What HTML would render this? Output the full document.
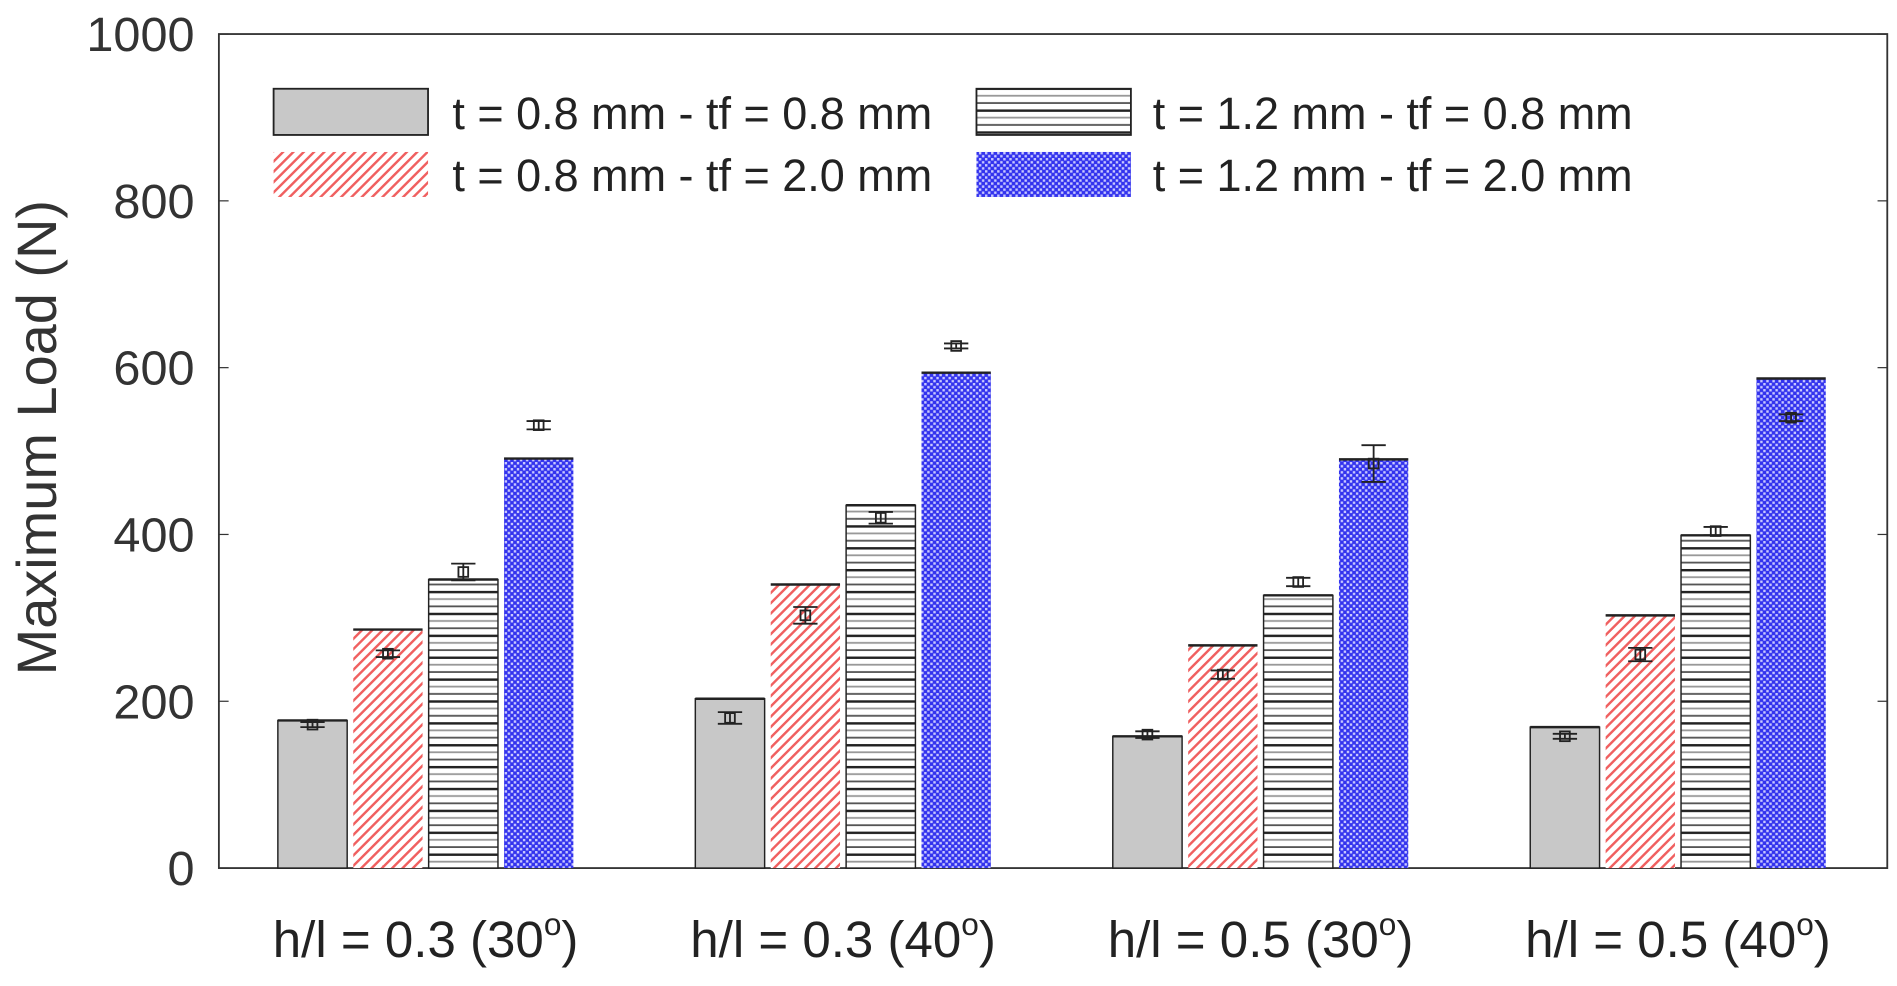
<!DOCTYPE html>
<html><head><meta charset="utf-8"><style>
html,body{margin:0;padding:0;background:#fff;}
svg{display:block;font-family:"Liberation Sans",Arial,sans-serif;}
</style></head><body>
<svg id="chart" width="1897" height="986" viewBox="0 0 1560 811" preserveAspectRatio="none" xmlns="http://www.w3.org/2000/svg">
<defs>
<pattern id="pRed" patternUnits="userSpaceOnUse" width="6" height="6" patternTransform="rotate(45)">
<rect width="6" height="6" fill="#fff"/><rect width="2" height="6" fill="#f06060"/></pattern>
<pattern id="pHor" patternUnits="userSpaceOnUse" width="10" height="18">
<rect width="10" height="18" fill="#fff"/><rect y="0" width="10" height="2" fill="#222"/><rect y="6" width="10" height="1.5" fill="#999"/><rect y="12" width="10" height="1.5" fill="#555"/></pattern>
<pattern id="pBlue" patternUnits="userSpaceOnUse" width="5" height="5">
<rect width="5" height="5" fill="#3333ee"/><rect x="0" y="0" width="2" height="2" fill="#c8c8ff"/><rect x="2.5" y="2.5" width="2" height="2" fill="#c8c8ff"/></pattern>
</defs>
<rect x="180" y="28" width="1372" height="686" fill="#fff" stroke="#333" stroke-width="1.5"/>
<g id="yaxis"></g>
<g id="bars"></g>
<g id="xaxis"></g>
<text x="46" y="360" transform="rotate(-90 46 360)" text-anchor="middle" font-size="46" fill="#333">Maximum Load (N)</text>
<g font-size="37" fill="#222">
<rect x="225" y="73" width="127" height="38" fill="#c8c8c8" stroke="#222" stroke-width="1.5"/>
<text x="372" y="106">t = 0.8 mm - tf = 0.8 mm</text>
<rect x="225" y="125" width="127" height="37" fill="url(#pRed)"/>
<text x="372" y="157">t = 0.8 mm - tf = 2.0 mm</text>
<rect x="803" y="73" width="127" height="38" fill="url(#pHor)" stroke="#222" stroke-width="1.5"/>
<text x="948" y="106">t = 1.2 mm - tf = 0.8 mm</text>
<rect x="803" y="125" width="127" height="37" fill="url(#pBlue)"/>
<text x="948" y="157">t = 1.2 mm - tf = 2.0 mm</text>
</g>
</svg>
<script>
const categories=["h/l = 0.3 (30","h/l = 0.3 (40","h/l = 0.5 (30","h/l = 0.5 (40"];
const s1=[177,203,158,169];
const s2=[286,340,267,303];
const s3=[346,435,327,399];
const s4=[491,594,490,587];
const e1=[172,180,160,158];
const e2=[257,303,232,256];
const e3=[355,420,343,404];
const e4=[531,626,485,540];
const d1=[3,7,4,3];
const d2=[4,10,5,8];
const d3=[10,7,5,5];
const d4=[5,3,22,4];
const yTicks=[0,200,400,600,800,1000];
const NS="http://www.w3.org/2000/svg";
const y=v=>714-v*0.686;
const gc=i=>350+i*343.3;
function mk(t,a,p){const e=document.createElementNS(NS,t);for(const k in a)e.setAttribute(k,a[k]);p.appendChild(e);return e;}
const ya=document.getElementById('yaxis');
yTicks.forEach(v=>{
 const t=mk('text',{x:160,y:y(v)+14,'text-anchor':'end','font-size':'40',fill:'#333'},ya);
 t.textContent=v;
 
 
 const l=mk('line',{x1:180,x2:188,y1:y(v),y2:y(v),stroke:'#333'},ya);
 
 
 mk('line',{x1:1544,x2:1552,y1:y(v),y2:y(v),stroke:'#333'},ya);
});
const xa=document.getElementById('xaxis');
categories.forEach((c,i)=>{
 const t=mk('text',{x:gc(i),y:787,'text-anchor':'middle','font-size':'42',fill:'#222'},xa);
 t.textContent=c;
 const s=mk('tspan',{dy:'-18','font-size':'26'},t);s.textContent='o';
 const s2_=mk('tspan',{dy:'18'},t);s2_.textContent=')';
 
 
});
const series=[[s1,e1,d1,'#c8c8c8',true],[s2,e2,d2,'url(#pRed)',false],[s3,e3,d3,'url(#pHor)',true],[s4,e4,d4,'url(#pBlue)',false]];
const bg=document.getElementById('bars');
series.forEach((s,k)=>{
 s[0].forEach((v,i)=>{
  const cx=gc(i)+(k-1.5)*62;
  const r=mk('rect',{x:cx-28.5,y:y(v),width:57,height:714-y(v),fill:s[3],stroke:s[4]?'#222':'none','stroke-width':1.2},bg);
  
  
  mk('line',{x1:cx-28.5,x2:cx+28.5,y1:y(v),y2:y(v),stroke:'#222','stroke-width':2},bg);
  const m=s[1][i],d=s[2][i];
  const g=mk('g',{stroke:'#222','stroke-width':1.5,fill:'none'},bg);
  
  
  mk('line',{x1:cx,x2:cx,y1:y(m+d),y2:y(m-d)},g);
  mk('line',{x1:cx-10,x2:cx+10,y1:y(m+d),y2:y(m+d)},g);
  mk('line',{x1:cx-10,x2:cx+10,y1:y(m-d),y2:y(m-d)},g);
  mk('rect',{x:cx-4,y:y(m)-4,width:8,height:8},g);
 });
});
</script>
</body></html>
